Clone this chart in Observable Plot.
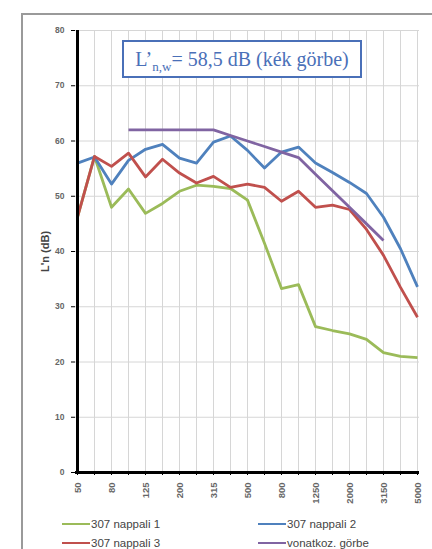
<!DOCTYPE html>
<html>
<head>
<meta charset="utf-8">
<script src="https://cdn.jsdelivr.net/npm/d3@7"></script>
<script src="https://cdn.jsdelivr.net/npm/@observablehq/plot@0.6"></script>
<style>
  html, body { margin: 0; padding: 0; background: #fff; }
  #wrap { position: relative; width: 432px; height: 549px; overflow: hidden; font-family: "Liberation Sans", Arial, sans-serif; }
  #frame { position: absolute; left: 21px; top: 13px; width: 430px; height: 560px; border-top: 2px solid #9a9a9a; border-left: 2px solid #9a9a9a; box-sizing: border-box; }
  #chart { position: absolute; left: 0; top: 0; }
  #note { position: absolute; left: 122px; top: 40px; width: 240px; height: 38px; box-sizing: border-box; border: 2px solid #4a70b8; background: #fff; color: #4a70b8; font-family: "Liberation Serif", "Times New Roman", serif; font-size: 20px; line-height: 34px; text-align: center; white-space: nowrap; }
  #note sub { font-size: 13px; vertical-align: -5px; line-height: 0; }
  #legend { position: absolute; left: 62px; top: 515px; width: 360px; display: grid; grid-template-columns: 196px 160px; row-gap: 2px; font-size: 11.5px; color: #444; }
  .item { display: flex; align-items: center; height: 17px; }
  .swatch { width: 28px; height: 2px; margin-right: 1px; }
</style>
</head>
<body>
<div id="wrap">
  <div id="frame"></div>
  <div id="chart"></div>
  <div id="note">L’<sub>n,w</sub>= 58,5 dB (kék görbe)</div>
  <div id="legend"></div>
</div>
<script>
const freqs = ["50","63","80","100","125","160","200","250","315","400","500","630","800","1000","1250","1600","2000","2500","3150","4000","5000"];
const tickLabels = ["50","80","125","200","315","500","800","1250","2000","3150","5000"];
const yTicks = [0,10,20,30,40,50,60,70,80];

const nappali1 = [46.2,57.2,48.0,51.3,46.9,48.7,50.9,52.0,51.8,51.4,49.3,41.5,33.3,34.0,26.4,25.7,25.1,24.1,21.7,21.0,20.8];
const nappali2 = [56.0,57.1,52.2,56.5,58.5,59.4,56.9,56.0,59.8,60.9,58.3,55.1,58.0,58.9,56.0,54.3,52.5,50.5,46.2,40.5,33.6];
const nappali3 = [46.2,57.2,55.4,57.8,53.5,56.7,54.2,52.4,53.6,51.6,52.2,51.6,49.1,50.9,48.0,48.4,47.6,44.0,39.3,33.5,28.1];
const refFreqs = ["100","125","160","200","250","315","400","500","630","800","1000","1250","1600","2000","2500","3150"];
const refCurve = [62,62,62,62,62,62,61,60,59,58,57,54,51,48,45,42];

const seriesNames = ["307 nappali 1","307 nappali 2","307 nappali 3","vonatkoz. görbe"];
const seriesColors = ["#9bbb59","#4f81bd","#c0504d","#8064a2"];

const rows = [];
[nappali1, nappali2, nappali3].forEach((vals, s) => {
  vals.forEach((v, i) => rows.push({f: freqs[i], v, s: seriesNames[s]}));
});
refCurve.forEach((v, i) => rows.push({f: refFreqs[i], v, s: seriesNames[3]}));

const chart = Plot.plot({
  width: 432,
  height: 510,
  marginLeft: 75,
  marginRight: 13,
  marginTop: 30,
  marginBottom: 38,
  style: {background: "transparent", fontFamily: "Liberation Sans, Arial, sans-serif"},
  x: {type: "point", domain: freqs, padding: 0},
  y: {domain: [0, 80]},
  color: {domain: seriesNames, range: seriesColors},
  marks: [
    Plot.gridX(freqs, {stroke: "#d6d6d6", strokeOpacity: 1, strokeWidth: 1}),
    Plot.gridY(yTicks, {stroke: "#d6d6d6", strokeOpacity: 1, strokeWidth: 1}),
    Plot.axisY(yTicks, {tickSize: 4, tickPadding: 7, fontSize: 8.5, fontWeight: "bold", fill: "#666", stroke: "#000", label: "L'n (dB)", labelAnchor: "center", labelOffset: 34, labelArrow: "none"}),
    Plot.axisX(freqs, {tickSize: 3, tickPadding: 7, tickRotate: -90, fontSize: 9.5, fontWeight: "bold", fill: "#666", stroke: "#000", label: null, tickFormat: d => tickLabels.includes(d) ? d : ""}),
    Plot.line(rows, {x: "f", y: "v", z: "s", stroke: "s", strokeWidth: 2.8, strokeLinejoin: "round", strokeLinecap: "butt"}),
    Plot.ruleX([freqs[0]], {stroke: "#000", strokeWidth: 3}),
    Plot.ruleY([0], {stroke: "#000", strokeWidth: 3})
  ]
});
chart.querySelectorAll("g[aria-label='y-axis label'] text").forEach(t => {
  t.setAttribute("font-size", "11");
  t.setAttribute("font-weight", "bold");
  t.setAttribute("fill", "#444");
});
document.getElementById("chart").appendChild(chart);

const legend = document.getElementById("legend");
[0, 1, 2, 3].forEach(i => {
  const it = document.createElement("div");
  it.className = "item";
  const sw = document.createElement("span");
  sw.className = "swatch";
  sw.style.background = seriesColors[i];
  const tx = document.createElement("span");
  tx.textContent = seriesNames[i];
  it.appendChild(sw);
  it.appendChild(tx);
  legend.appendChild(it);
});
</script>
</body>
</html>
